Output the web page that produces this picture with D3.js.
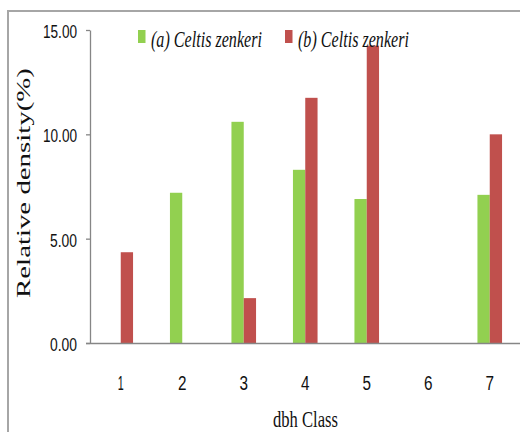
<!DOCTYPE html>
<html>
<head>
<meta charset="utf-8">
<script src="https://cdn.jsdelivr.net/npm/d3@7"></script>
<style>
  html, body { margin: 0; padding: 0; background: #fff; }
  svg { display: block; }
</style>
</head>
<body>
<svg id="chart" width="520" height="432"></svg>
<script>
// dbh classes and relative density (%) per class
const classes = ["1", "2", "3", "4", "5", "6", "7"];
const seriesA = [0, 7.2, 10.6, 8.3, 6.9, 0, 7.1];
const seriesB = [4.35, 0, 2.15, 11.75, 14.25, 0, 10.0];
const seriesNames = ["(a) Celtis zenkeri", "(b) Celtis zenkeri"];
const yTicks = [0, 5, 10, 15];

const colors = ["#92D050", "#C0504D"];
const svg = d3.select("#chart");

// squeeze a text horizontally to a given width, placed at (tx, ty) with an optional rotation
function fitText(sel, tx, ty, width, rotate) {
  const natural = sel.node().getComputedTextLength();
  const k = width / natural;
  sel.attr("transform", `translate(${tx},${ty})` + (rotate ? ` rotate(${rotate})` : "") + ` scale(${k},1)`);
}

// outer frame (left and top edges)
svg.append("path")
  .attr("d", "M8,432 V11 H520")
  .attr("fill", "none")
  .attr("stroke", "#a6a6a6")
  .attr("stroke-width", 2);

const x = d3.scaleBand().domain(classes).range([90, 520.5]).padding(0);
const y = d3.scaleLinear().domain([0, 15]).range([343, 30]);
const bw = x.bandwidth() * 0.2;

// bars
const data = classes.map((c, i) => ({ c, a: seriesA[i], b: seriesB[i] }));
const g = svg.append("g");
g.selectAll("rect.a").data(data).enter().append("rect")
  .attr("class", "a")
  .attr("x", d => x(d.c) + x.bandwidth() / 2 - bw)
  .attr("y", d => y(d.a))
  .attr("width", bw)
  .attr("height", d => y(0) - y(d.a))
  .attr("fill", colors[0]);
g.selectAll("rect.b").data(data).enter().append("rect")
  .attr("class", "b")
  .attr("x", d => x(d.c) + x.bandwidth() / 2)
  .attr("y", d => y(d.b))
  .attr("width", bw)
  .attr("height", d => y(0) - y(d.b))
  .attr("fill", colors[1]);

// y axis
const yAxis = svg.append("g")
  .attr("transform", "translate(90,0)")
  .call(d3.axisLeft(y).tickValues(yTicks).tickFormat(d3.format(".2f")).tickSize(4).tickSizeOuter(0));
yAxis.select(".domain").attr("stroke", "#868686").attr("stroke-width", 1.3);
yAxis.selectAll(".tick line").attr("stroke", "#868686").attr("stroke-width", 1.3);
yAxis.selectAll(".tick text")
  .attr("x", -13)
  .attr("dy", "0.42em")
  .attr("fill", "#111")
  .style("font-family", "'Liberation Sans', Arial, sans-serif")
  .style("font-size", "18px")
  .attr("textLength", d => d >= 10 ? 34 : 27)
  .attr("lengthAdjust", "spacingAndGlyphs");

// x axis
const xAxis = svg.append("g")
  .attr("transform", "translate(0,343)")
  .call(d3.axisBottom(x).tickSize(0).tickSizeOuter(0));
xAxis.select(".domain").attr("stroke", "#868686").attr("stroke-width", 1.3)
  .attr("d", "M86,0.5H520");
xAxis.selectAll(".tick text")
  .attr("y", 0)
  .attr("dy", 47)
  .attr("fill", "#111")
  .style("font-family", "'Liberation Sans', Arial, sans-serif")
  .style("font-size", "20px")
  .attr("textLength", d => d === "1" ? 6 : 8.5)
  .attr("lengthAdjust", "spacingAndGlyphs");

// axis titles
const yTitle = svg.append("text")
  .attr("text-anchor", "middle")
  .attr("fill", "#111")
  .style("font-family", "'Liberation Serif', 'Times New Roman', serif")
  .style("font-size", "18px")
  .text("Relative density(%)");
fitText(yTitle, 30, 183, 230, -90);

const xTitle = svg.append("text")
  .attr("fill", "#111")
  .style("font-family", "'Liberation Serif', 'Times New Roman', serif")
  .style("font-size", "23px")
  .text("dbh Class");
fitText(xTitle, 273, 427, 65);

// legend
const legendX = [138, 285];
seriesNames.forEach((name, i) => {
  svg.append("rect")
    .attr("x", legendX[i])
    .attr("y", 30)
    .attr("width", 7.5)
    .attr("height", 13)
    .attr("fill", colors[i]);
  const t = svg.append("text")
    .attr("fill", "#111")
    .style("font-family", "'Liberation Serif', 'Times New Roman', serif")
    .style("font-style", "italic")
    .style("font-size", "24px")
    .text(name);
  fitText(t, legendX[i] + 13, 47, 111);
});
</script>
</body>
</html>
